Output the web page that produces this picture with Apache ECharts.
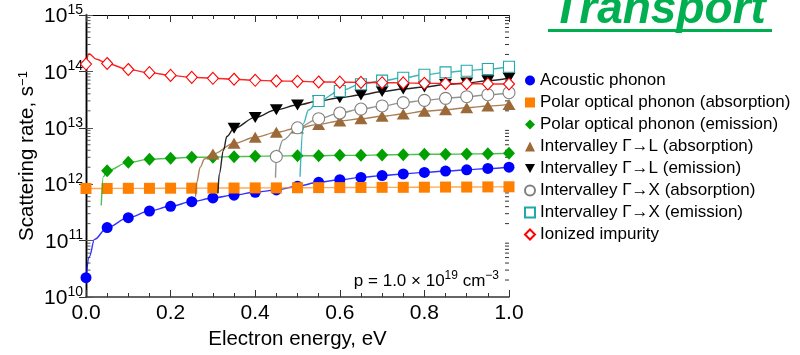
<!DOCTYPE html>
<html>
<head>
<meta charset="utf-8">
<script src="https://cdn.jsdelivr.net/npm/echarts@6/dist/echarts.min.js"></script>
<style>
  html, body { margin: 0; padding: 0; background: #fff; }
  #chart { width: 800px; height: 355px; }
</style>
</head>
<body>
<div id="chart"></div>
<script>
// Electron energy (eV) of the plotted markers
const energy = [0, 0.05, 0.10, 0.15, 0.20, 0.25, 0.30, 0.35, 0.40, 0.45, 0.50,
                0.55, 0.60, 0.65, 0.70, 0.75, 0.80, 0.85, 0.90, 0.95, 1.00];

// Scattering rates (1/s) at each marker energy; null where the process is closed
const acoustic = [2.2e10, 1.7e11, 2.55e11, 3.35e11, 4.06e11, 4.9e11, 5.7e11, 6.4e11, 7.2e11, 7.9e11, 9.2e11,
                  1.08e12, 1.2e12, 1.32e12, 1.42e12, 1.52e12, 1.62e12, 1.71e12, 1.8e12, 1.9e12, 2.0e12];
const polarAbs = [8.4e11, 8.4e11, 8.45e11, 8.45e11, 8.5e11, 8.5e11, 8.55e11, 8.55e11, 8.6e11, 8.6e11, 8.65e11,
                  8.7e11, 8.7e11, 8.75e11, 8.8e11, 8.8e11, 8.85e11, 8.9e11, 8.9e11, 8.95e11, 9.0e11];
const polarEm = [null, 1.73e12, 2.44e12, 2.76e12, 2.88e12, 3.0e12, 3.02e12, 3.08e12, 3.12e12, 3.16e12, 3.2e12,
                 3.2e12, 3.25e12, 3.25e12, 3.3e12, 3.34e12, 3.39e12, 3.39e12, 3.43e12, 3.47e12, 3.53e12];
const gammaLAbs = [null, null, null, null, null, null, 3.43e12, 5.3e12, 6.8e12, 8.3e12, 9.9e12,
                   1.15e13, 1.32e13, 1.45e13, 1.6e13, 1.76e13, 1.96e13, 2.09e13, 2.27e13, 2.43e13, 2.6e13];
const gammaLEm = [null, null, null, null, null, null, null, 9.8e12, 1.53e13, 2.09e13, 2.54e13,
                  2.99e13, 3.42e13, 3.82e13, 4.41e13, 4.88e13, 5.29e13, 5.86e13, 6.23e13, 6.84e13, 7.64e13];
const gammaXAbs = [null, null, null, null, null, null, null, null, null, 3.1e12, 1.0e13,
                   1.45e13, 1.83e13, 2.15e13, 2.44e13, 2.79e13, 3.07e13, 3.33e13, 3.56e13, 3.86e13, 4.19e13];
const gammaXEm = [null, null, null, null, null, null, null, null, null, null, null,
                  2.98e13, 4.49e13, 5.9e13, 6.86e13, 7.7e13, 8.7e13, 9.6e13, 1.03e14, 1.1e14, 1.21e14];
const ionized = [1.35e14, 1.38e14, 1.08e14, 9.5e13, 8.5e13, 7.85e13, 7.55e13, 7.25e13, 6.95e13, 6.76e13, 6.67e13,
                 6.49e13, 6.45e13, 6.38e13, 6.3e13, 6.25e13, 6.15e13, 6.1e13, 6.05e13, 6.0e13, 5.98e13];

// Extra points on the curves (thresholds and sharp bends) drawn without markers: [energy, rate]
const acousticCurve  = [[0.008, 5.2e10], [0.02, 1.05e11]];
const polarEmCurve   = [[0.036, 4.2e11], [0.041, 1.36e12]];
const gammaLAbsCurve = [[0.259, 6.0e11], [0.262, 1.1e12], [0.27, 2.0e12], [0.28, 2.8e12]];
const gammaLEmCurve  = [[0.312, 6.9e11], [0.315, 1.5e12], [0.325, 4.0e12], [0.333, 7.0e12]];
const gammaXAbsCurve = [[0.448, 1.3e12], [0.466, 6.1e12]];
const gammaXEmCurve  = [[0.506, 1.36e12], [0.514, 1.2e13], [0.526, 2.07e13]];
const ionizedCurve   = [[0.007, 2.05e14], [0.025, 1.64e14]];

const names = [
  'Acoustic phonon',
  'Polar optical phonon (absorption)',
  'Polar optical phonon (emission)',
  'Intervalley \u0393\u2192L (absorption)',
  'Intervalley \u0393\u2192L (emission)',
  'Intervalley \u0393\u2192X (absorption)',
  'Intervalley \u0393\u2192X (emission)',
  'Ionized impurity'
];

const FONT = '"Liberation Sans", Arial, sans-serif';
const downTri = 'path://M0,0L20,0L10,18Z';

function buildData(values, curve) {
  const pts = [];
  values.forEach((v, i) => { if (v !== null) pts.push({ value: [energy[i], v] }); });
  curve.forEach(p => pts.push({ value: p, symbol: 'none' }));
  pts.sort((a, b) => a.value[0] - b.value[0]);
  return pts;
}

// hollow markers are drawn as white shapes with a thin coloured outline
function lineSeries(name, values, curve, opt) {
  return {
    name: name,
    type: 'line',
    xAxisIndex: 0,
    yAxisIndex: 0,
    data: buildData(values, curve),
    smooth: 0.35,
    smoothMonotone: 'x',
    symbol: opt.symbol,
    symbolSize: opt.size,
    showSymbol: true,
    showAllSymbol: true,
    z: opt.z,
    lineStyle: { color: opt.line, width: 1.4 },
    itemStyle: opt.hollow
      ? { color: '#ffffff', borderColor: opt.color, borderWidth: 1.1 }
      : { color: opt.color, borderWidth: 0 },
    emphasis: { disabled: true },
    animation: false
  };
}

// minor ticks of the logarithmic rate axis (2..9 within each decade)
const logMinor = [];
for (let k = 10; k < 15; k++) {
  for (let m = 2; m <= 9; m++) logMinor.push([0, m * Math.pow(10, k)]);
}

const chart = echarts.init(document.getElementById('chart'));

const option = {
  backgroundColor: '#fff',
  animation: false,
  textStyle: { fontFamily: FONT },
  grid: { left: 86, top: 15, width: 423, height: 282, containLabel: false },
  legend: {
    orient: 'vertical',
    left: 519,
    top: 67,
    itemWidth: 10,
    itemHeight: 10,
    itemGap: 5,
    selectedMode: false,
    textStyle: { fontSize: 17, color: '#000', fontFamily: FONT },
    data: [
      { name: names[0], icon: 'circle' },
      { name: names[1], icon: 'rect' },
      { name: names[2], icon: 'diamond' },
      { name: names[3], icon: 'triangle' },
      { name: names[4], icon: downTri },
      { name: names[5], icon: 'circle' },
      { name: names[6], icon: 'rect' },
      { name: names[7], icon: 'diamond' }
    ]
  },
  xAxis: [
    {
      type: 'value', position: 'bottom', min: 0, max: 1, interval: 0.2,
      name: 'Electron energy, eV', nameLocation: 'middle', nameGap: 30,
      nameTextStyle: { fontSize: 20.5, color: '#000', fontFamily: FONT },
      axisLine: { lineStyle: { color: '#333', width: 1.5 } },
      axisTick: { inside: true, length: 7, lineStyle: { color: '#333' } },
      minorTick: { show: true, splitNumber: 4, length: 4, lineStyle: { color: '#333' } },
      axisLabel: { fontSize: 21, color: '#000', margin: 6, fontFamily: FONT,
                   formatter: v => v.toFixed(1) },
      splitLine: { show: false }
    },
    {
      type: 'value', position: 'top', min: 0, max: 1, interval: 0.2,
      axisLine: { lineStyle: { color: '#000', width: 1.2 } },
      axisTick: { inside: true, length: 7, lineStyle: { color: '#333' } },
      minorTick: { show: true, splitNumber: 4, length: 4, lineStyle: { color: '#333' } },
      axisLabel: { show: false },
      splitLine: { show: false }
    }
  ],
  yAxis: [
    {
      type: 'log', logBase: 10, min: 1e10, max: 1e15, position: 'left',
      name: 'Scattering rate, s{s|\u22121}', nameLocation: 'middle', nameGap: 48,
      nameMoveOverlap: false,
      nameTextStyle: {
        fontSize: 20.5, color: '#000', fontFamily: FONT,
        rich: { s: { fontSize: 13, verticalAlign: 'top', lineHeight: 13, fontFamily: FONT, color: '#000' } }
      },
      axisLine: { lineStyle: { color: '#808080', width: 2.5 } },
      axisTick: { inside: true, length: 7, lineStyle: { color: '#555' } },
      axisLabel: {
        margin: 3, color: '#000',
        formatter: v => '{b|10}{s|' + Math.round(Math.log10(v)) + '}',
        rich: {
          b: { fontSize: 21, fontFamily: FONT, color: '#000', lineHeight: 24, verticalAlign: 'bottom' },
          s: { fontSize: 14, fontFamily: FONT, color: '#000', lineHeight: 14, verticalAlign: 'top' }
        }
      },
      splitLine: { show: false }
    },
    {
      type: 'log', logBase: 10, min: 1e10, max: 1e15, position: 'right',
      axisLine: { lineStyle: { color: '#000', width: 1.2 } },
      axisTick: { inside: true, length: 7, lineStyle: { color: '#333' } },
      axisLabel: { show: false },
      splitLine: { show: false }
    }
  ],
  graphic: [
    {
      type: 'text', x: 552, y: 10, z: 10,
      style: { text: 'Transport', font: 'italic bold 46px "Liberation Sans", Arial, sans-serif',
               fill: '#00b050', verticalAlign: 'middle', align: 'left' }
    },
    {
      type: 'rect', z: 10, shape: { x: 548, y: 29, width: 224, height: 3 },
      style: { fill: '#00b050' }
    },
    {
      type: 'text', x: 499, y: 290, z: 10,
      style: {
        text: '{b|p = 1.0 \u00d7 10}{s|19}{b| cm}{s|\u22123}',
        align: 'right', verticalAlign: 'bottom',
        rich: {
          b: { fontSize: 17, fontFamily: FONT, fill: '#000', lineHeight: 20, verticalAlign: 'bottom' },
          s: { fontSize: 12, fontFamily: FONT, fill: '#000', lineHeight: 12, verticalAlign: 'top' }
        }
      }
    }
  ],
  series: [
    {
      type: 'custom', name: 'logMinorTicks', silent: true, z: 1,
      coordinateSystem: 'cartesian2d', xAxisIndex: 0, yAxisIndex: 0,
      data: logMinor,
      renderItem: (params, api) => {
        const v = api.value(1);
        const pl = api.coord([0, v]);
        const pr = api.coord([1, v]);
        return {
          type: 'group',
          children: [
            { type: 'line', shape: { x1: pl[0] + 1, y1: pl[1], x2: pl[0] + 4.5, y2: pl[1] },
              style: { stroke: '#555', lineWidth: 1 } },
            { type: 'line', shape: { x1: pr[0] - 4, y1: pr[1], x2: pr[0], y2: pr[1] },
              style: { stroke: '#333', lineWidth: 1 } }
          ]
        };
      },
      animation: false
    },
    lineSeries(names[0], acoustic, acousticCurve, { symbol: 'circle', size: 11, color: '#0000ff', line: 'rgba(0,0,255,0.8)', z: 2 }),
    lineSeries(names[1], polarAbs, [], { symbol: 'rect', size: 11, color: '#ff7f00', line: 'rgba(255,140,30,0.75)', z: 3 }),
    lineSeries(names[2], polarEm, polarEmCurve, { symbol: 'diamond', size: [12, 13], color: '#00a000', line: 'rgba(20,170,20,0.75)', z: 4 }),
    lineSeries(names[3], gammaLAbs, gammaLAbsCurve, { symbol: 'triangle', size: [13, 11], color: '#9b6a38', line: 'rgba(155,106,56,0.85)', z: 5 }),
    lineSeries(names[4], gammaLEm, gammaLEmCurve, { symbol: downTri, size: [13, 11], color: '#000000', line: 'rgba(0,0,0,0.85)', z: 6 }),
    lineSeries(names[5], gammaXAbs, gammaXAbsCurve, { symbol: 'circle', size: 12, color: '#808080', line: 'rgba(128,128,128,0.85)', hollow: true, z: 7 }),
    lineSeries(names[6], gammaXEm, gammaXEmCurve, { symbol: 'rect', size: 11, color: '#1fa9a9', line: 'rgba(31,169,169,0.85)', hollow: true, z: 8 }),
    lineSeries(names[7], ionized, ionizedCurve, { symbol: 'diamond', size: [11, 12], color: '#ff0000', line: 'rgba(255,0,0,0.85)', hollow: true, z: 9 })
  ]
};

chart.setOption(option);
</script>
</body>
</html>
